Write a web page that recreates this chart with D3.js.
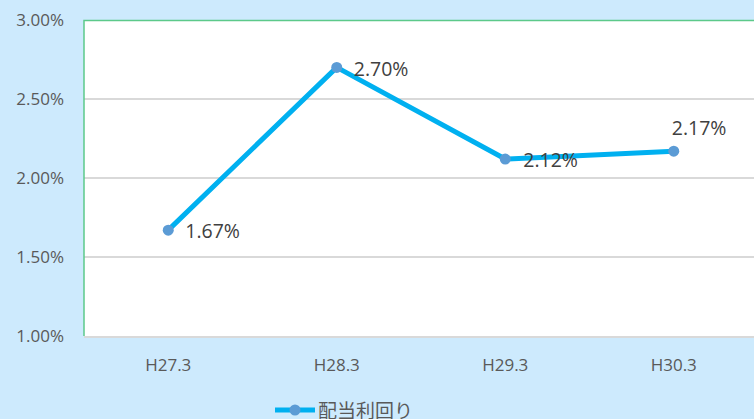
<!DOCTYPE html>
<html><head><meta charset="utf-8">
<script src="https://cdn.jsdelivr.net/npm/d3@7"></script>
<style>body{margin:0;background:#cdeafd;overflow:hidden}svg{display:block}</style>
</head><body>
<svg id="c" width="754" height="419"></svg>
<script>
const categories = ["H27.3","H28.3","H29.3","H30.3"];
const values = [1.67, 2.70, 2.12, 2.17];
const yTicks = [1.0, 1.5, 2.0, 2.5, 3.0];
const seriesName = "配当利回り";

(function(){
const svg = d3.select("#c");
const font = "'Open Sans','Noto Sans CJK JP',sans-serif";
const pL = 84, pT = 20, pB = 336, pR = 758;
const x = d3.scaleBand().domain(categories).range([pL, pR]);
const y = d3.scaleLinear().domain([1, 3]).range([pB, pT]);

svg.append("rect").attr("width",754).attr("height",419).attr("fill","#cdeafd");
svg.append("rect").attr("x",pL).attr("y",pT).attr("width",pR-pL).attr("height",pB-pT).attr("fill","#fff");

// gridlines
svg.append("g").selectAll("line").data(yTicks.filter(d=>d>1&&d<3)).join("line")
  .attr("x1",pL).attr("x2",pR).attr("y1",d=>y(d)).attr("y2",d=>y(d))
  .attr("stroke","#d9d9d9").attr("stroke-width",2);
// bottom axis line
svg.append("line").attr("x1",pL).attr("x2",pR).attr("y1",y(1)+1).attr("y2",y(1)+1)
  .attr("stroke","#d9d9d9").attr("stroke-width",2);
// green border top & left
svg.append("path").attr("d",`M${pL},${pB}V${pT+0.5}H${pR}`)
  .attr("fill","none").attr("stroke","#5cc98a").attr("stroke-width",1.5);

// y axis labels
const yAxis = d3.axisLeft(y).tickValues(yTicks).tickFormat(d=>d.toFixed(2)+"%").tickSize(0).tickPadding(20);
const ga = svg.append("g").attr("transform",`translate(${pL},0)`).call(yAxis);
ga.select(".domain").remove();
ga.selectAll("text").attr("font-family",font).attr("font-size",17).attr("fill","#595959");

// x axis labels
const xAxis = d3.axisBottom(x).tickSize(0).tickPadding(23);
const gx = svg.append("g").attr("transform",`translate(0,${pB})`).call(xAxis);
gx.select(".domain").remove();
gx.selectAll("text").attr("font-family",font).attr("font-size",17).attr("fill","#595959");

const cx = d => x(d) + x.bandwidth()/2;
const data = categories.map((c,i)=>({c, v: values[i]}));
svg.append("path").datum(data)
  .attr("d", d3.line().x(d=>cx(d.c)).y(d=>y(d.v)))
  .attr("fill","none").attr("stroke","#00b0f0").attr("stroke-width",5).attr("stroke-linejoin","round");
svg.append("g").selectAll("circle").data(data).join("circle")
  .attr("cx",d=>cx(d.c)).attr("cy",d=>y(d.v)).attr("r",5.5).attr("fill","#5b9bd5");

// data labels
const labelOff = [[17,8],[17,9],[18,8],[-2,-16]];
svg.append("g").selectAll("text").data(data).join("text")
  .attr("x",(d,i)=>cx(d.c)+labelOff[i][0]).attr("y",(d,i)=>y(d.v)+labelOff[i][1])
  .attr("font-family",font).attr("font-size",19.5).attr("fill","#404040")
  .text(d=>d.v.toFixed(2)+"%");

// legend
const lg = svg.append("g").attr("transform","translate(275,410)");
lg.append("line").attr("x1",0).attr("x2",40).attr("y1",0).attr("y2",0).attr("stroke","#00b0f0").attr("stroke-width",5);
lg.append("circle").attr("cx",20).attr("cy",0).attr("r",5.5).attr("fill","#5b9bd5");
lg.append("text").attr("x",43).attr("y",8).attr("font-family",font).attr("font-size",19).attr("fill","#595959").text(seriesName);
})();
</script>
</body></html>
